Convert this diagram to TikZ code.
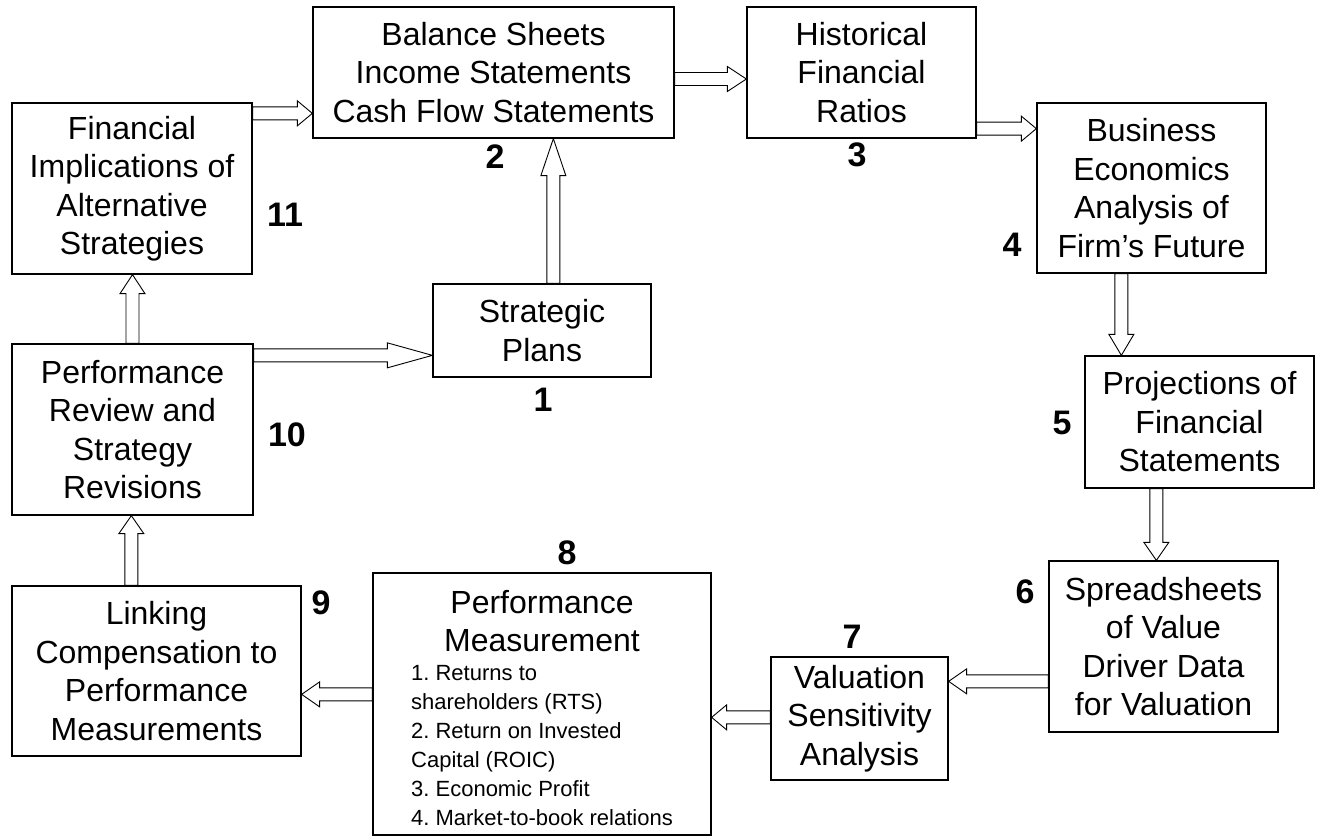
\documentclass[tikz,border=0pt]{standalone}
\usepackage{fontspec}
\setmainfont{Liberation Sans}
\usetikzlibrary{calc}
\frenchspacing

% hollow block arrow: \barrow[head length]{from}{to}
\newcommand{\barrow}[3][15]{%
  \draw[arw] ($(#2)!6.5pt!90:(#3)$)
    -- ($(#3)!#1pt!(#2)!6.5pt!90:(#3)$)
    -- ($(#3)!#1pt!(#2)!12.5pt!90:(#3)$)
    -- (#3)
    -- ($(#3)!#1pt!(#2)!12.5pt!-90:(#3)$)
    -- ($(#3)!#1pt!(#2)!6.5pt!-90:(#3)$)
    -- ($(#2)!6.5pt!-90:(#3)$) -- cycle;}

\begin{document}
\begin{tikzpicture}[x=1pt,y=-1pt]
\tikzstyle{bx}=[draw,line width=1.3pt,inner sep=0pt,align=center,font=\fontsize{32}{38.5}\selectfont]
\tikzstyle{num}=[font=\fontsize{34}{40}\selectfont\bfseries]
\tikzstyle{arw}=[draw,fill=white,line width=0.9pt,line join=miter]
\useasboundingbox (0,0) rectangle (1321,837);

\node [bx,minimum width=218pt,minimum height=93pt] (n1) at (542,330.5) {Strategic\\Plans};
\node [bx,minimum width=361pt,minimum height=131pt] (n2) at (493.5,72.5) {Balance Sheets\\Income Statements\\Cash Flow Statements};
\node [bx,minimum width=229pt,minimum height=131pt] (n3) at (861.5,72.5) {Historical\\Financial\\Ratios};
\node [bx,minimum width=229pt,minimum height=170pt] (n4) at (1151.5,188) {Business\\Economics\\Analysis of\\Firm’s Future};
\node [bx,minimum width=229pt,minimum height=132pt] (n5) at (1199.5,422) {Projections of\\Financial\\Statements};
\node [bx,minimum width=229pt,minimum height=171pt] (n6) at (1163.5,646.5) {Spreadsheets\\of Value\\Driver Data\\for Valuation};
\node [bx,minimum width=177pt,minimum height=123pt] (n7) at (859.5,718.5) {Valuation\\Sensitivity\\Analysis};
\node [bx,minimum width=338pt,minimum height=262pt] (n8) at (542,704) {%
  \parbox[c][260pt][t]{320pt}{\centering\vspace*{16pt}Performance\\Measurement\par
  \fontsize{22}{29}\selectfont\begin{tabular}[t]{@{}l@{}}
  1. Returns to\\
  shareholders (RTS)\\
  2. Return on Invested\\
  Capital (ROIC)\\
  3. Economic Profit\\
  4. Market-to-book relations
  \end{tabular}}};
\node [bx,minimum width=289pt,minimum height=170pt] (n9) at (156.5,671) {Linking\\Compensation to\\Performance\\Measurements};
\node [bx,minimum width=241pt,minimum height=171pt] (n10) at (132.5,429.5) {Performance\\Review and\\Strategy\\Revisions};
\node [bx,minimum width=240pt,minimum height=171pt] (n11) at (132,188.5) {Financial\\Implications of\\Alternative\\Strategies};

\node [num] (l1) at (543,400) {1};
\node [num] (l2) at (495,157) {2};
\node [num] (l3) at (857,155) {3};
\node [num] (l4) at (1012,245) {4};
\node [num] (l5) at (1062,423) {5};
\node [num] (l6) at (1025,592) {6};
\node [num] (l7) at (852,637) {7};
\node [num] (l8) at (567,553) {8};
\node [num] (l9) at (321,603) {9};
\node [num] (l10) at (287,435) {10};
\node [num] (l11) at (285,215) {11};

% arrow ends
\coordinate (s11) at ([yshift=-11pt]n11.north east);
\coordinate (e11) at (n2.west |- s11);
\coordinate (s2) at ([yshift=-6.5pt]n2.east);
\coordinate (e2) at (n3.west |- s2);
\coordinate (s3) at ([yshift=10pt]n3.south east);
\coordinate (e3) at (n4.west |- s3);
\coordinate (s4) at ([xshift=85pt]n4.south west);
\coordinate (e4) at (s4 |- n5.north);
\coordinate (s5) at ([xshift=72pt]n5.south west);
\coordinate (e5) at (s5 |- n6.north);
\coordinate (s6) at ([yshift=-121pt]n6.north west);
\coordinate (e6) at (n7.east |- s6);
\coordinate (s7) at ([yshift=-61pt]n7.north west);
\coordinate (e7) at (n8.east |- s7);
\coordinate (s8) at ([yshift=-122pt]n8.north west);
\coordinate (e8) at (n9.east |- s8);
\coordinate (s9) at ([xshift=120pt]n9.north west);
\coordinate (e9) at (s9 |- n10.south);
\coordinate (s10) at (n10.north);
\coordinate (e10) at (s10 |- n11.south);
\coordinate (s10b) at ([yshift=-12pt]n10.north east);
\coordinate (e10b) at (n1.west |- s10b);
\coordinate (s1) at ([xshift=121pt]n1.north west);
\coordinate (e1) at (s1 |- n2.south);

\barrow{s11}{e11}
\barrow[19]{s2}{e2}
\barrow{s3}{e3}
\barrow[21]{s4}{e4}
\barrow[18]{s5}{e5}
\barrow[18]{s6}{e6}
\barrow{s7}{e7}
\barrow[18]{s8}{e8}
\barrow[18]{s9}{e9}
\barrow[19]{s10}{e10}
\barrow[45]{s10b}{e10b}
\barrow[37]{s1}{e1}
\end{tikzpicture}
\end{document}
